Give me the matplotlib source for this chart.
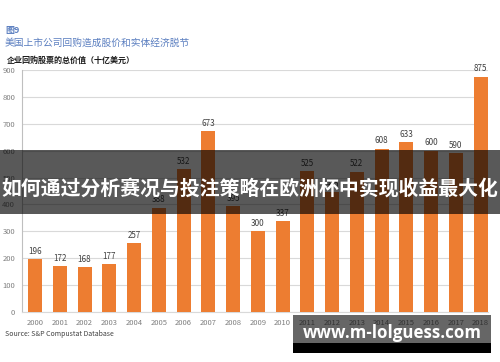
import matplotlib.pyplot as plt
from matplotlib.patches import Rectangle

plt.rcParams['font.family'] = ['Noto Sans CJK SC', 'DejaVu Sans']

# ============================================================
# DANE
# ============================================================

years = [str(y) for y in range(2000, 2019)]
values = [196, 172, 168, 177, 257, 388, 532, 673, 395, 300,
          337, 525, 445, 522, 608, 633, 600, 590, 875]
y_ticks = [0, 100, 200, 300, 400, 500, 600, 700, 800, 900]

fig_label = "图9"
title = "美国上市公司回购造成股价和实体经济脱节"
subtitle = "企业回购股票的总价值（十亿美元）"
source = "Source: S&P Compustat Database"
banner_text = "如何通过分析赛况与投注策略在欧洲杯中实现收益最大化"
watermark = "www.m-lolguess.com"

W, H = 500, 362

# ============================================================
# WYKRES
# ============================================================

fig = plt.figure(figsize=(W / 100, H / 100), dpi=100)
ax = fig.add_axes([22 / W, 1 - 312 / H, 466 / W, 242 / H])

x = range(len(years))
ax.bar(x, values, width=0.57, color="#ED7D31", zorder=3)

for i, v in enumerate(values):
    ax.text(i, v + 12, str(v), ha="center", va="bottom",
            fontsize=5.8, color="#404040", zorder=4)

ax.set_xlim(-0.53, len(years) - 0.7)
ax.set_ylim(0, 900)
ax.set_yticks(y_ticks)
ax.set_xticks(list(x))
ax.set_xticklabels(years)
ax.tick_params(axis="both", length=0, labelsize=5.5, colors="#7f7f7f")
ax.tick_params(axis="y", pad=5)
ax.tick_params(axis="x", pad=5)
ax.grid(axis="y", color="#d9d9d9", linewidth=0.8, zorder=0)

for s in ["top", "right"]:
    ax.spines[s].set_visible(False)
ax.spines["left"].set_color("#bfbfbf")
ax.spines["bottom"].set_color("#d9d9d9")

# ============================================================
# TEKSTY
# ============================================================

fig.text(5 / W, 1 - 30 / H, fig_label, fontsize=6.5, color="#5b7fc0",
         va="center", fontweight="bold")
fig.text(5 / W, 1 - 43 / H, title, fontsize=7, color="#5b7fc0", va="center")
fig.text(7 / W, 1 - 60 / H, subtitle, fontsize=5.8, color="#1a1a1a",
         va="center", fontweight="bold")
fig.text(5 / W, 1 - 334 / H, source, fontsize=5, color="#404040",
         va="center")

# ============================================================
# NAKLADKI
# ============================================================

fig.patches.append(Rectangle((0, 1 - 214 / H), 1, 64 / H,
                             transform=fig.transFigure, facecolor="black",
                             edgecolor="none", alpha=0.65, zorder=10))
fig.text(0.5, 1 - 188 / H, banner_text, fontsize=14.3, color="white",
         ha="center", va="center", fontweight="bold", zorder=11)

fig.patches.append(Rectangle((293 / W, 1 - 343 / H), 198 / W, 28 / H,
                             transform=fig.transFigure, facecolor="black",
                             edgecolor="none", alpha=0.6, zorder=10))
fig.patches.append(Rectangle((293 / W, 1 - 353 / H), 198 / W, 10 / H,
                             transform=fig.transFigure, facecolor="black",
                             edgecolor="none", zorder=10))
fig.text(392 / W, 1 - 333 / H, watermark, fontsize=12.2, color="white",
         ha="center", va="center", fontweight="bold",
         family=["Open Sans", "DejaVu Sans"], zorder=11)

fig.savefig("out.png", dpi=100)
